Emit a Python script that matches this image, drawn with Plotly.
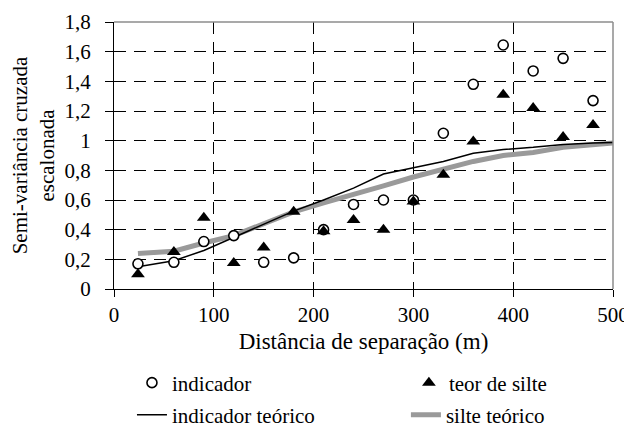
import plotly.graph_objects as go

# Experimental lags (m)
lag = [24, 60, 90, 120, 150, 180, 210, 240, 270, 300, 330, 360, 390, 420, 450, 480]
indicador = [0.17, 0.18, 0.32, 0.36, 0.18, 0.21, 0.40, 0.57, 0.60, 0.60,
             1.05, 1.38, 1.645, 1.47, 1.555, 1.27]
teor_silte = [0.10, 0.25, 0.48, 0.175, 0.28, 0.52, 0.39, 0.465, 0.40, 0.59,
              0.77, 0.995, 1.31, 1.22, 1.025, 1.105]

# Theoretical models
model_x = [24, 60, 90, 120, 150, 180, 210, 240, 270, 300, 330, 360, 390, 420, 450, 480, 510]
indicador_teorico = [0.15, 0.19, 0.26, 0.35, 0.435, 0.525, 0.60, 0.68, 0.775, 0.815,
                     0.86, 0.915, 0.94, 0.955, 0.975, 0.985, 0.99]
silte_teorico = [0.24, 0.255, 0.31, 0.36, 0.44, 0.52, 0.58, 0.635, 0.695, 0.755,
                 0.81, 0.86, 0.90, 0.92, 0.955, 0.97, 0.99]

x_ticks = [0, 100, 200, 300, 400, 500]
y_ticks = [0, 0.2, 0.4, 0.6, 0.8, 1.0, 1.2, 1.4, 1.6, 1.8]
y_ticklabels = ["0", "0,2", "0,4", "0,6", "0,8", "1", "1,2", "1,4", "1,6", "1,8"]

FONT = "Liberation Serif"

fig = go.Figure()

fig.add_trace(go.Scatter(
    x=model_x, y=silte_teorico, mode="lines", name="silte teórico",
    line=dict(color="#9a9a9a", width=5), legend="legend4"))
fig.add_trace(go.Scatter(
    x=model_x, y=indicador_teorico, mode="lines", name="indicador teórico",
    line=dict(color="black", width=1.5), legend="legend3"))
fig.add_trace(go.Scatter(
    x=lag, y=indicador, mode="markers", name="indicador",
    marker=dict(symbol="circle", size=10, color="white",
                line=dict(color="black", width=1.6)), legend="legend"))
fig.add_trace(go.Scatter(
    x=lag, y=teor_silte, mode="markers", name="teor de silte",
    marker=dict(symbol="triangle-up", size=12, color="black",
                line=dict(width=0)), legend="legend2"))


def leg(x, y):
    return dict(x=x, xanchor="left", y=y, yanchor="middle",
                font=dict(family=FONT, size=21, color="black"),
                bgcolor="rgba(0,0,0,0)")


fig.update_layout(
    width=624, height=420,
    margin=dict(l=106, r=19, t=14, b=139, autoexpand=False),
    showlegend=True,
    paper_bgcolor="white", plot_bgcolor="white",
    font=dict(family=FONT, size=21, color="black"),
    xaxis=dict(
        range=[0, 500], tickvals=x_ticks, ticktext=[str(v) for v in x_ticks],
        showgrid=True, gridcolor="black", gridwidth=1, griddash="12px,8px",
        zeroline=False, showline=True, linecolor="black", linewidth=1,
        ticks="outside", ticklen=7, tickcolor="black", ticklabelstandoff=0,
        automargin=False,
        title=dict(text="Distância de separação (m)", standoff=6,
                   font=dict(family=FONT, size=23)),
        tickfont=dict(family=FONT, size=21)),
    yaxis=dict(
        range=[0, 1.8], tickvals=y_ticks, ticktext=y_ticklabels,
        showgrid=True, gridcolor="black", gridwidth=1, griddash="12px,8px",
        zeroline=False, showline=True, linecolor="black", linewidth=1,
        ticks="outside", ticklen=8, tickcolor="black", ticklabelstandoff=10,
        automargin=False,
        title=dict(text="Semi-variância cruzada<br>escalonada", standoff=4,
                   font=dict(family=FONT, size=21)),
        tickfont=dict(family=FONT, size=21)),
    legend=leg(0.036, -0.352),
    legend2=leg(0.591, -0.352),
    legend3=leg(0.036, -0.472),
    legend4=leg(0.585, -0.472),
    shapes=[
        dict(type="line", xref="paper", yref="paper", x0=0, x1=1, y0=1, y1=1,
             line=dict(color="#8c8c8c", width=1.5), layer="above"),
        dict(type="line", xref="paper", yref="paper", x0=1, x1=1, y0=0, y1=1,
             line=dict(color="#8c8c8c", width=1.5), layer="above"),
    ],
)

fig.write_html("out.html")
